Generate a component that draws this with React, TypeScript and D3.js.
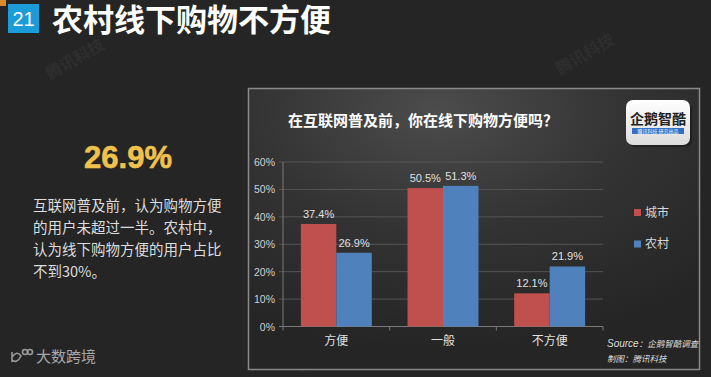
import React from "react";
import * as d3 from "d3";

const categories = ["方便", "一般", "不方便"];
const seriesNames = ["城市", "农村"];
const cityValues = [37.4, 50.5, 12.1];
const ruralValues = [26.9, 51.3, 21.9];
const yTicks = [0, 10, 20, 30, 40, 50, 60];
const paragraph = [
  "互联网普及前，认为购物方便",
  "的用户未超过一半。农村中，",
  "认为线下购物方便的用户占比",
  "不到30%。",
];
const colors = ["#c0504d", "#4f81bd"];
const FONT = "'Liberation Sans', 'Noto Sans CJK SC', sans-serif";
const CJK = "'Noto Sans CJK SC', 'Liberation Sans', sans-serif";

export default function App() {
  const W = 711, H = 377;
  const x0 = d3.scaleBand<string>().domain(categories).range([283, 603]).paddingInner(0.335).paddingOuter(0.1675);
  const x1 = d3.scaleBand<string>().domain(seriesNames).range([0, x0.bandwidth()]);
  const y = d3.scaleLinear().domain([0, 60]).range([326.5, 162]);
  const series = [cityValues, ruralValues];
  const step = x0.step();
  const boundaries = d3.range(categories.length + 1).map((i) => 283 + i * step);

  return (
    <svg width={W} height={H} style={{ position: "fixed", left: 0, top: 0, background: "#252525" }} fontFamily={FONT}>
      <defs>
        <radialGradient id="pg" cx="0.42" cy="0.08" r="0.85">
          <stop offset="0" stopColor="#4c4c4c" />
          <stop offset="0.5" stopColor="#333333" />
          <stop offset="1" stopColor="#252525" />
        </radialGradient>
        <linearGradient id="lg" x1="0" y1="0" x2="0" y2="1">
          <stop offset="0" stopColor="#ffffff" />
          <stop offset="1" stopColor="#dcdcdc" />
        </linearGradient>
      </defs>
      <rect width={W} height={H} fill="#252525" />

      {/* watermarks */}
      {[[50, 80], [560, 75], [300, 372], [500, 175], [440, 250]].map(([wx, wy], i) => (
        <text key={i} x={wx} y={wy} transform={`rotate(-30 ${wx} ${wy})`} fontFamily={CJK} fontSize={16} fontWeight="bold" fill="#ffffff" opacity={0.04}>腾讯科技</text>
      ))}

      {/* header */}
      <rect x={0} y={0} width={6} height={6} fill="#d98a2b" />
      <rect x={8} y={4} width={31} height={29} fill="#1b9bd7" />
      <text x={23.5} y={26} textAnchor="middle" fontSize={20} fill="#fff">21</text>
      <text x={52} y={31} fontFamily={FONT} fontSize={31} fontWeight="bold" fill="#fff">农村线下购物不方便</text>

      {/* left summary */}
      <text x={128} y={168} textAnchor="middle" fontSize={31} fontWeight="bold" fill="#f0c24b" stroke="#f0c24b" strokeWidth={0.6}>26.9%</text>
      {paragraph.map((line, i) => (
        <text key={i} x={33} y={211 + i * 22} fontFamily={CJK} fontSize={14.5} fill="#dddddd">{line}</text>
      ))}

      {/* bottom-left logo */}
      <g stroke="#9a9a9a" fill="none" strokeWidth={1.6}>
        <path d="M12 352 L12 362 M12 357 Q17 350 21 356 Q17 364 12 360" />
        <circle cx={25} cy={352} r={2.5} />
        <circle cx={30} cy={352} r={2.5} />
      </g>
      <text x={36} y={362} fontFamily={CJK} fontSize={15} fill="#a8a8a8">大数跨境</text>

      {/* panel */}
      <rect x={248.5} y={88.5} width={451} height={281} fill="url(#pg)" stroke="#8a8a8a" strokeWidth={1.5} />
      <text x={288} y={126} fontFamily={CJK} fontSize={15} fontWeight="bold" fill="#ffffff">在互联网普及前，你在线下购物方便吗？</text>

      {/* logo box */}
      <rect x={628} y={102} width={64} height={45} rx={7} fill="#111" opacity={0.5} />
      <rect x={626} y={100} width={64} height={45} rx={7} fill="url(#lg)" />
      <text x={658} y={124} textAnchor="middle" fontFamily={CJK} fontSize={14} fontWeight="bold" fill="#222">企鹅智酷</text>
      <rect x={632} y={128} width={52} height={6} fill="#2f6fc4" />
      <text x={658} y={133} textAnchor="middle" fontFamily={CJK} fontSize={5} fill="#fff">腾讯科技 研究出品</text>

      {/* grid + y axis */}
      {yTicks.map((t) => (
        <g key={t}>
          <line x1={279} x2={603} y1={y(t)} y2={y(t)} stroke={t === 0 ? "#7a7a7a" : "#555"} strokeWidth={1} />
          <text x={275} y={y(t) + 4} textAnchor="end" fontSize={10.5} fill="#d0d0d0">{t}%</text>
        </g>
      ))}
      <line x1={283} x2={283} y1={y(60)} y2={y(0)} stroke="#7a7a7a" />
      {boundaries.map((bx, i) => (
        <line key={i} x1={bx} x2={bx} y1={y(0)} y2={y(0) + 4} stroke="#7a7a7a" />
      ))}

      {/* bars */}
      {categories.map((c, ci) => (
        <g key={c} transform={`translate(${x0(c)},0)`}>
          {series.map((vals, si) => {
            const bx = x1(seriesNames[si])!;
            const v = vals[ci];
            return (
              <g key={si}>
                <rect x={bx} y={y(v)} width={x1.bandwidth()} height={y(0) - y(v)} fill={colors[si]} />
                <text x={bx + x1.bandwidth() / 2} y={y(v) - 6} textAnchor="middle" fontSize={11} fill="#e0e0e0">{v}%</text>
              </g>
            );
          })}
        </g>
      ))}
      {categories.map((c) => (
        <text key={c} x={x0(c)! + x0.bandwidth() / 2} y={345} textAnchor="middle" fontFamily={CJK} fontSize={12} fill="#e0e0e0">{c}</text>
      ))}

      {/* legend */}
      {seriesNames.map((n, i) => (
        <g key={n} transform={`translate(634,${209 + i * 31.5})`}>
          <rect x={0} y={0} width={7} height={7} fill={colors[i]} />
          <text x={11} y={7.5} fontFamily={CJK} fontSize={12} fill="#d8d8d8">{n}</text>
        </g>
      ))}

      {/* source */}
      <text x={607} y={347} fontStyle="italic" fill="#dddddd">
        <tspan fontSize={10}>Source</tspan>
        <tspan fontFamily={CJK} fontSize={8.5}>：企鹅智酷调查</tspan>
      </text>
      <text x={607} y={362} fontFamily={CJK} fontSize={8.5} fontStyle="italic" fill="#dddddd">制图：腾讯科技</text>
    </svg>
  );
}
